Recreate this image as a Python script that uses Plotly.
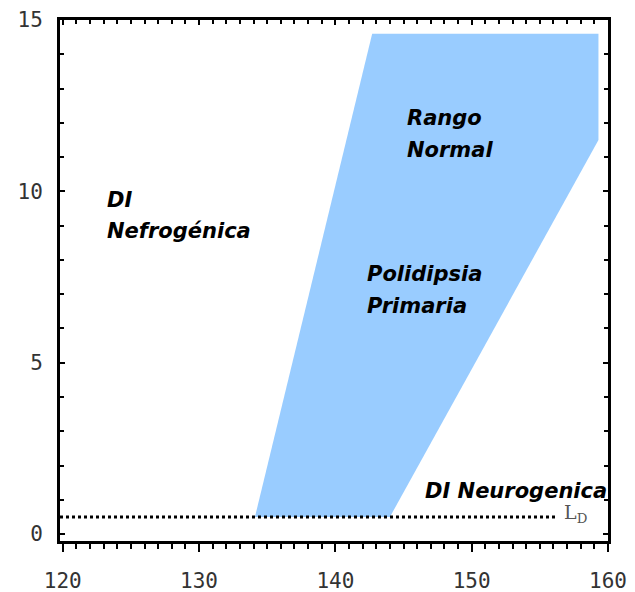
import plotly.graph_objects as go

# Region of normal / polydipsia (blue polygon), in data units
region_x = [134.1, 142.7, 159.3, 159.3, 144.0]
region_y = [0.5, 14.6, 14.6, 11.5, 0.5]

# Detection-limit dotted line
ld_x = [119.8, 156.3]
ld_y = [0.5, 0.5]

# Text labels (one entry per line)
label_text = ["DI", "Nefrogénica", "Rango", "Normal", "Polidipsia", "Primaria", "DI Neurogenica"]
label_x = [123.1, 123.1, 145.1, 145.1, 142.2, 142.2, 146.4]
label_y = [9.75, 8.85, 12.15, 11.2, 7.6, 6.65, 1.26]

x_ticks = [120, 130, 140, 150, 160]
y_ticks = [0, 5, 10, 15]

fig = go.Figure()
fig.add_trace(go.Scatter(x=region_x + [region_x[0]], y=region_y + [region_y[0]],
                         fill="toself", fillcolor="#99ccff", mode="none",
                         hoverinfo="skip", showlegend=False))
fig.add_trace(go.Scatter(x=ld_x, y=ld_y, mode="lines",
                         line=dict(color="black", width=3, dash="dot"),
                         showlegend=False))
# invisible trace on secondary axes so they render
fig.add_trace(go.Scatter(x=[120], y=[0], xaxis="x2", yaxis="y2", mode="markers",
                         marker=dict(opacity=0), showlegend=False, hoverinfo="skip"))

for t, x, y in zip(label_text, label_x, label_y):
    fig.add_annotation(x=x, y=y, text=f"<b><i>{t}</i></b>", showarrow=False,
                       xanchor="left", yanchor="middle",
                       font=dict(family="DejaVu Sans", size=21, color="black"))
fig.add_annotation(x=156.6, y=0.6, text="L<sub>D</sub>", showarrow=False,
                   xanchor="left", yanchor="middle",
                   font=dict(family="DejaVu Serif", size=19, color="#555555"))

xr = [119.8, 160]
yr = [-0.2, 15]
tickfont = dict(family="DejaVu Sans Mono", size=21, color="#333333")

# The page body has an 8px default margin, so margins are compensated for it.
fig.update_layout(
    width=635, height=592,
    margin=dict(l=52, r=35, t=12, b=59),
    plot_bgcolor="white", paper_bgcolor="white",
    xaxis=dict(range=xr, tickvals=x_ticks, ticks="outside", ticklen=8, tickwidth=2,
               tickcolor="black", showgrid=False, zeroline=False, automargin=False,
               showline=True, linecolor="black", linewidth=3, mirror=True,
               tickfont=tickfont, ticklabelstandoff=11,
               minor=dict(dtick=1, ticks="outside", ticklen=5, tickwidth=1.5, tickcolor="black")),
    yaxis=dict(range=yr, tickvals=y_ticks, ticks="inside", ticklen=5, tickwidth=2,
               tickcolor="black", showgrid=False, zeroline=False, automargin=False,
               showline=True, linecolor="black", linewidth=3, mirror=True,
               tickfont=tickfont, ticklabelstandoff=10,
               minor=dict(dtick=1, ticks="inside", ticklen=4, tickwidth=1.5, tickcolor="black")),
    xaxis2=dict(range=xr, overlaying="x", side="top", tickvals=x_ticks, ticks="inside",
                ticklen=5, tickwidth=2, tickcolor="black", showticklabels=False,
                showgrid=False, zeroline=False, anchor="y", automargin=False,
                minor=dict(dtick=1, ticks="inside", ticklen=4, tickwidth=1.5, tickcolor="black")),
    yaxis2=dict(range=yr, overlaying="y", side="right", tickvals=y_ticks, ticks="inside",
                ticklen=5, tickwidth=2, tickcolor="black", showticklabels=False,
                showgrid=False, zeroline=False, anchor="x", automargin=False,
                minor=dict(dtick=1, ticks="inside", ticklen=4, tickwidth=1.5, tickcolor="black")),
)

fig.write_html("out.html")
